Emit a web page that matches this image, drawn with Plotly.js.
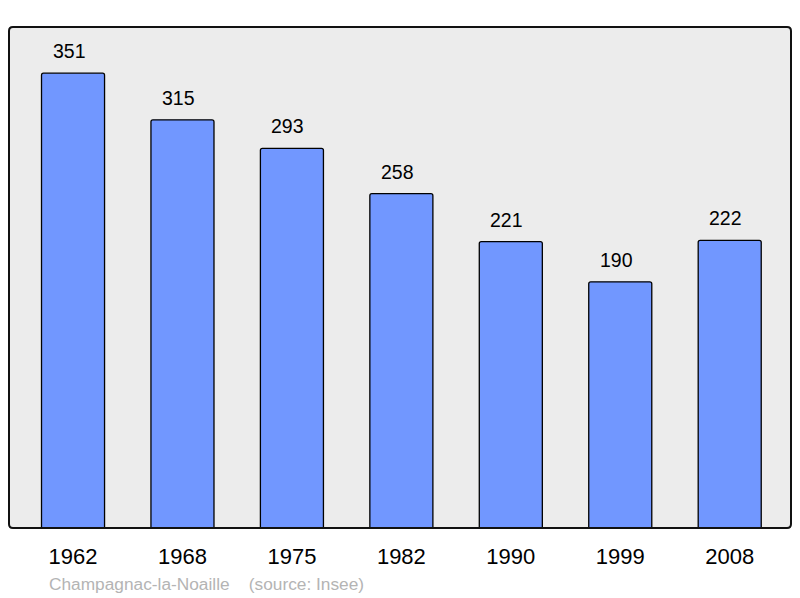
<!DOCTYPE html>
<html>
<head>
<meta charset="utf-8">
<script src="https://cdn.plot.ly/plotly-3.0.1.min.js"></script>
<style>
  html, body { margin: 0; padding: 0; background: #fff; }
  #chart { width: 800px; height: 598px; }
</style>
</head>
<body>
<div id="chart"></div>
<script>
// population by census year
const years = ['1962', '1968', '1975', '1982', '1990', '1999', '2008'];
const population = [351, 315, 293, 258, 221, 190, 222];
const footer = 'Champagnac-la-Noaille    (source: Insee)';

const FONT = 'Liberation Sans, Arial, sans-serif';

const bars = {
  x: years,
  y: population,
  type: 'bar',
  width: 0.576,
  marker: { color: '#7197ff', line: { color: '#000', width: 1.3 }, cornerradius: 2 },
  hoverinfo: 'none'
};

// value labels above each bar (x by category index, a numeric string would be read as an index)
const labels = years.map((yr, i) => ({
  x: i, y: population[i],
  text: String(population[i]),
  showarrow: false,
  yanchor: 'bottom',
  yshift: 9,
  xshift: -4,
  font: { family: FONT, size: 19.5, color: '#000' }
}));

labels.push({
  xref: 'paper', yref: 'paper',
  x: 0.049, y: -0.112,
  xanchor: 'left', yanchor: 'middle',
  text: footer.replace(/ /g, '&nbsp;'),
  showarrow: false,
  font: { family: FONT, size: 17.3, color: '#b4b4b4' }
});

// rounded frame in paper units (about 4px radius)
const rx = 0.005, ry = 0.008;
const framePath =
  `M ${rx},0 L ${1 - rx},0 Q 1,0 1,${ry} L 1,${1 - ry} Q 1,1 ${1 - rx},1 ` +
  `L ${rx},1 Q 0,1 0,${1 - ry} L 0,${ry} Q 0,0 ${rx},0 Z`;

const layout = {
  width: 800, height: 598,
  margin: { l: 9, r: 9, t: 27, b: 70 },
  paper_bgcolor: '#fff',
  plot_bgcolor: 'rgba(0,0,0,0)',
  showlegend: false,
  xaxis: {
    type: 'category',
    range: [-0.585, 6.56],
    showgrid: false, zeroline: false, showline: false,
    ticks: 'outside', ticklen: 9, tickcolor: 'rgba(0,0,0,0)',
    tickfont: { family: FONT, size: 22, color: '#000' },
    fixedrange: true
  },
  yaxis: {
    range: [0, 386.6],
    showgrid: false, zeroline: false, showline: false,
    showticklabels: false, ticks: '',
    fixedrange: true
  },
  annotations: labels,
  shapes: [
    {
      type: 'path', xref: 'paper', yref: 'paper', path: framePath,
      fillcolor: '#ececec', line: { width: 0 }, layer: 'below'
    },
    {
      type: 'path', xref: 'paper', yref: 'paper', path: framePath,
      fillcolor: 'rgba(0,0,0,0)', line: { color: '#111', width: 2 }, layer: 'above'
    }
  ]
};

Plotly.newPlot('chart', [bars], layout, { staticPlot: true });
</script>
</body>
</html>
